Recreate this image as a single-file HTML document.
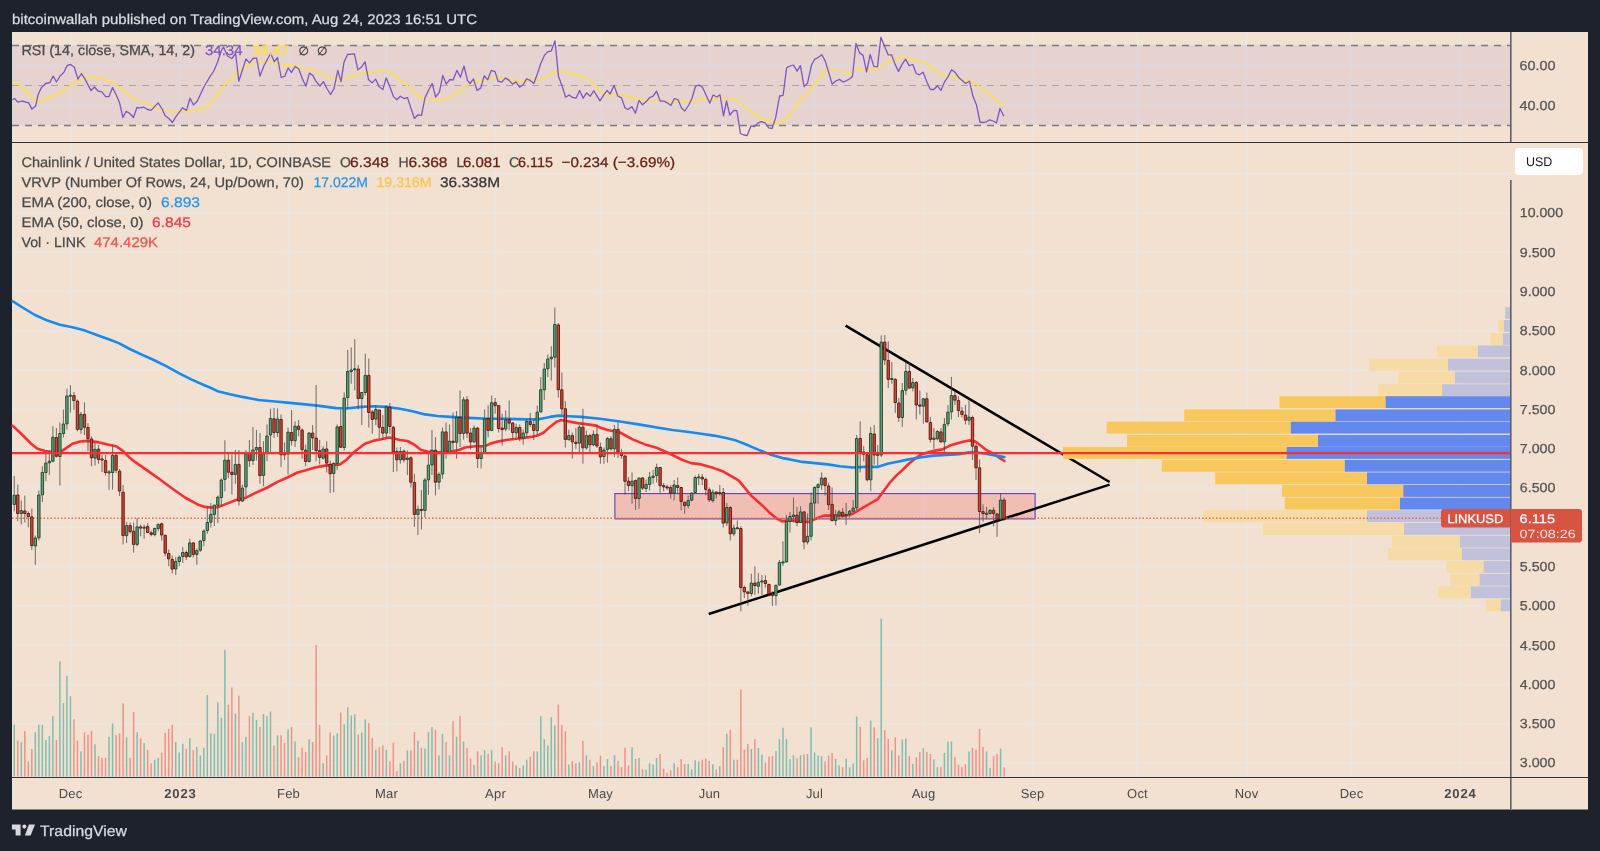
<!DOCTYPE html>
<html><head><meta charset="utf-8"><title>LINKUSD chart</title><style>html,body{margin:0;padding:0;background:#1e222d}body{width:1600px;height:851px;overflow:hidden;position:relative}</style></head><body>
<svg width="1600" height="851" viewBox="0 0 1600 851" style="position:absolute;left:0;top:0;font-family:'Liberation Sans',sans-serif;will-change:transform;-webkit-font-smoothing:antialiased" text-rendering="geometricPrecision">
<rect width="1600" height="851" fill="#1e222d"/>
<rect x="12" y="32" width="1576" height="777.5" fill="#f2e0d0"/>
<path d="M70.5 32V142M70.5 143V777M180.5 32V142M180.5 143V777M288.5 32V142M288.5 143V777M386.5 32V142M386.5 143V777M495.5 32V142M495.5 143V777M600.5 32V142M600.5 143V777M709.5 32V142M709.5 143V777M814.5 32V142M814.5 143V777M923.5 32V142M923.5 143V777M1032.5 32V142M1032.5 143V777M1137.5 32V142M1137.5 143V777M1246.5 32V142M1246.5 143V777M1351.5 32V142M1351.5 143V777M1460.5 32V142M1460.5 143V777M12 65.5H1510M12 105.5H1510M12 173.7H1510M12 213.0H1510M12 252.3H1510M12 291.6H1510M12 330.9H1510M12 370.1H1510M12 409.4H1510M12 448.7H1510M12 488.0H1510M12 527.3H1510M12 566.6H1510M12 605.9H1510M12 645.1H1510M12 684.4H1510M12 723.7H1510M12 763.0H1510" stroke="#e9e6e4" stroke-width="1.5" fill="none"/>
<rect x="12" y="45" width="1498" height="80" fill="rgba(126,87,194,0.1)"/>
<path d="M12 45.5H1510M12 125.5H1510" stroke="#787b86" stroke-width="1.3" stroke-dasharray="7 6" fill="none"/>
<path d="M12 85.5H1510" stroke="#787b86" stroke-opacity="0.55" stroke-width="1" stroke-dasharray="7 6" fill="none"/>
<polyline points="12.5,81.6 21.2,86.0 28.8,94.1 35.0,99.8 38.1,101.2 47.5,98.5 60.0,92.9 72.5,84.1 80.0,79.8 86.2,76.6 95.0,77.2 105.0,80.0 113.8,82.9 122.5,89.8 132.5,97.9 142.5,102.2 153.8,106.6 166.2,110.8 176.2,111.8 187.5,111.0 197.5,109.8 205.0,107.2 210.0,104.1 215.0,98.5 223.8,86.0 235.0,74.1 246.2,66.6 256.2,62.0 270.0,61.6 277.5,62.9 285.0,65.8 291.2,64.8 298.8,66.6 306.2,69.1 313.8,69.8 322.5,74.8 332.5,78.8 341.2,80.0 347.5,78.5 355.0,75.0 366.2,72.5 372.5,72.2 380.0,71.0 390.0,72.0 397.5,77.9 405.0,84.1 410.0,87.9 416.2,94.5 423.8,98.5 431.9,98.9 439.4,100.5 446.2,97.9 453.8,95.0 460.0,91.6 466.2,86.0 472.5,81.6 480.0,81.2 487.5,79.5 496.2,78.2 505.0,78.5 513.8,80.4 522.5,80.8 530.0,79.8 538.8,79.8 545.0,77.9 551.2,74.1 555.6,71.4 561.2,71.4 570.0,73.0 578.8,75.8 587.5,78.5 593.8,82.9 600.0,91.0 605.0,94.5 610.0,95.4 615.0,94.2 622.5,94.8 635.0,98.5 647.5,100.4 657.5,100.4 666.2,101.9 672.5,102.2 678.8,101.2 690.0,101.9 697.5,99.8 703.8,98.5 711.2,99.1 720.0,97.6 728.8,99.4 736.9,99.5 742.5,104.5 748.8,110.4 755.0,114.5 762.5,118.5 768.8,121.6 775.6,123.5 783.1,121.2 787.5,117.2 793.8,109.5 800.0,101.0 805.0,95.8 810.0,91.0 816.2,82.2 825.0,71.2 831.9,68.9 841.2,71.4 850.0,73.2 856.2,69.8 862.5,68.8 873.8,69.8 878.1,68.8 885.0,63.5 892.5,59.5 901.9,57.5 910.0,59.1 918.8,61.0 926.2,62.9 933.8,69.1 942.5,75.4 951.2,76.6 960.0,79.1 969.4,80.8 977.5,85.1 985.0,91.0 992.5,96.6 1003.8,106.2" fill="none" stroke="#fde23a" stroke-width="1.45" stroke-linejoin="round"/>
<polyline points="12.5,99.8 14.4,98.5 18.1,102.2 21.9,101.0 28.8,102.9 31.9,109.1 35.6,106.0 38.1,94.8 41.2,87.9 45.6,83.5 50.0,82.5 53.1,76.0 56.5,82.0 60.0,76.0 63.8,72.5 67.2,65.4 70.6,64.5 74.4,67.2 77.9,79.1 81.5,73.5 85.0,79.1 91.0,90.6 94.4,87.0 98.1,91.0 101.9,91.9 105.6,96.6 109.0,96.6 112.5,87.5 116.2,94.8 119.4,102.2 122.9,117.5 126.2,111.4 129.8,113.5 133.5,117.5 136.9,107.5 140.0,107.9 143.8,107.2 147.5,109.5 151.0,110.4 158.1,102.9 161.9,108.5 165.0,115.4 168.8,118.5 172.5,122.5 175.6,117.2 182.5,107.9 186.5,110.4 190.0,98.2 193.5,105.0 197.2,101.2 204.4,86.0 210.0,76.6 213.8,71.0 217.5,62.2 221.2,51.0 223.5,47.0 227.5,56.0 231.9,58.5 235.6,53.5 238.8,81.2 242.5,69.8 246.0,58.9 249.4,62.9 253.1,58.5 256.5,57.9 260.0,76.2 263.8,66.0 270.6,53.5 274.4,61.6 277.5,57.5 281.2,77.5 284.8,76.2 288.1,67.9 291.5,72.5 295.2,66.4 298.8,69.1 302.5,79.1 306.0,86.2 309.4,73.1 312.8,75.4 316.2,81.6 320.0,86.0 323.5,81.6 326.9,88.5 330.6,94.5 334.0,88.5 337.8,70.4 341.0,81.6 344.0,62.2 347.5,54.5 354.4,53.8 357.9,69.8 361.5,67.2 365.0,61.9 368.5,79.5 372.1,82.9 375.6,79.1 379.0,86.6 382.8,89.5 386.2,77.9 390.0,87.2 393.5,96.6 396.9,99.8 400.4,96.2 404.0,98.5 407.5,97.6 410.0,105.4 414.4,118.5 418.1,114.8 421.5,115.4 425.0,97.9 428.8,89.8 432.2,83.5 435.6,97.0 439.4,92.2 442.8,75.4 446.2,84.1 449.8,79.5 453.1,80.0 456.9,70.4 460.4,77.2 464.0,66.0 467.5,80.4 470.0,83.5 473.5,78.9 477.1,90.5 480.9,87.9 484.1,75.8 487.8,79.8 491.2,70.4 495.0,71.6 498.1,81.2 501.6,82.2 505.6,77.9 509.1,80.4 512.5,84.1 516.0,81.9 519.6,87.2 523.1,84.8 526.6,78.9 530.2,80.4 533.8,83.5 537.5,73.5 541.0,62.9 544.4,55.4 547.9,51.6 551.2,51.2 555.0,40.8 558.5,76.6 561.9,85.4 565.6,97.2 569.0,95.0 572.5,97.5 576.0,98.2 579.6,90.4 583.1,98.2 586.6,92.9 590.2,96.2 593.8,90.8 600.0,100.8 603.8,94.8 607.1,90.4 610.0,94.1 614.1,85.4 617.8,96.0 621.5,97.9 625.0,107.9 628.1,109.5 631.9,106.6 635.4,113.2 639.0,100.4 642.5,104.8 646.2,101.6 649.8,97.5 653.1,96.2 656.6,91.2 660.2,101.0 663.8,101.2 667.5,102.9 670.9,105.4 674.4,98.5 678.1,99.8 681.5,108.1 684.8,111.0 688.8,105.0 691.9,98.5 695.6,86.0 699.0,85.1 702.5,87.2 706.2,95.4 709.8,103.1 713.1,95.0 716.9,97.0 720.0,94.8 723.5,115.8 726.5,101.0 729.8,115.0 733.8,110.4 736.9,110.6 740.4,133.5 743.8,135.0 747.2,135.6 751.0,125.8 754.4,126.6 758.1,122.9 761.6,121.6 765.0,122.9 768.8,127.9 772.1,128.5 775.6,117.9 779.6,96.0 783.1,95.4 786.6,67.9 790.0,66.0 793.5,65.0 797.1,71.2 800.4,65.6 804.1,86.6 807.5,83.2 810.0,72.2 811.5,65.0 814.8,59.1 818.1,57.5 821.9,54.8 825.2,61.0 828.8,72.9 832.2,84.1 835.9,81.0 839.4,79.4 843.1,82.0 846.2,80.8 849.8,78.8 852.5,76.2 856.0,43.5 859.6,52.9 863.1,55.4 866.6,72.0 870.2,54.5 873.8,66.4 877.5,66.6 880.9,37.2 884.4,46.0 888.1,54.8 891.6,54.8 895.0,64.1 898.5,71.4 902.2,64.1 905.6,59.1 909.1,65.6 912.8,64.5 916.2,73.5 919.4,74.8 923.1,72.2 926.9,82.0 930.4,89.5 933.8,89.5 937.5,85.8 940.9,90.4 944.4,82.2 948.1,76.6 951.6,69.8 955.0,72.2 958.8,77.5 962.2,80.4 965.6,83.5 969.4,81.2 972.9,96.0 976.5,105.0 980.0,122.0 982.2,122.5 985.6,122.2 989.6,119.8 993.1,121.0 996.5,122.9 1000.0,108.5 1003.8,116.2" fill="none" stroke="#7e57c2" stroke-width="1.3" stroke-linejoin="round"/>
<path d="M14.27 724.7V776.5M21.29 742.2V776.5M35.33 732.2V776.5M38.84 724.7V776.5M42.35 724.7V776.5M45.86 740.0V776.5M49.37 735.9V776.5M52.88 716.1V776.5M59.90 661.4V776.5M63.41 703.1V776.5M66.92 675.8V776.5M70.43 696.2V776.5M80.96 751.2V776.5M95.00 744.2V776.5M109.04 736.9V776.5M112.55 723.4V776.5M126.59 737.2V776.5M137.12 732.2V776.5M144.14 743.0V776.5M154.67 759.8V776.5M158.18 757.8V776.5M175.73 741.9V776.5M179.24 752.5V776.5M182.75 743.8V776.5M189.77 738.0V776.5M196.79 747.0V776.5M200.30 755.5V776.5M203.81 747.8V776.5M207.32 695.0V776.5M210.83 733.3V776.5M214.34 733.8V776.5M217.85 702.3V776.5M221.36 717.7V776.5M224.87 649.7V776.5M235.40 713.4V776.5M242.42 742.3V776.5M245.93 736.7V776.5M252.95 713.0V776.5M256.46 720.0V776.5M263.48 714.1V776.5M266.99 716.1V776.5M270.50 711.4V776.5M277.52 735.2V776.5M288.05 729.4V776.5M295.07 741.4V776.5M309.11 739.1V776.5M323.15 763.0V776.5M333.68 735.6V776.5M337.19 733.3V776.5M344.21 724.2V776.5M347.72 707.2V776.5M351.23 715.6V776.5M354.74 714.2V776.5M361.76 732.5V776.5M365.27 719.5V776.5M375.80 749.7V776.5M386.33 749.7V776.5M400.37 763.3V776.5M407.39 750.5V776.5M417.92 740.8V776.5M424.94 748.4V776.5M428.45 732.0V776.5M431.96 727.0V776.5M438.98 755.2V776.5M442.49 734.1V776.5M449.51 755.2V776.5M456.53 736.7V776.5M463.55 741.4V776.5M474.08 765.0V776.5M481.10 755.2V776.5M484.61 750.2V776.5M491.63 750.2V776.5M505.67 755.6V776.5M516.20 765.6V776.5M523.22 765.6V776.5M526.73 759.8V776.5M537.26 751.2V776.5M540.77 716.1V776.5M544.28 739.2V776.5M547.79 745.5V776.5M551.30 717.3V776.5M554.81 725.5V776.5M568.85 764.5V776.5M579.38 762.2V776.5M586.40 755.2V776.5M593.42 766.1V776.5M603.95 766.1V776.5M607.46 759.1V776.5M614.48 755.2V776.5M632.03 747.3V776.5M639.05 758.0V776.5M646.07 769.7V776.5M649.58 763.3V776.5M653.09 764.5V776.5M656.60 758.0V776.5M674.15 763.3V776.5M688.19 764.1V776.5M691.70 769.2V776.5M695.21 760.3V776.5M698.72 761.4V776.5M712.76 764.2V776.5M719.78 766.1V776.5M726.80 733.8V776.5M733.82 759.8V776.5M751.37 748.9V776.5M758.39 748.1V776.5M761.90 754.4V776.5M775.94 750.9V776.5M779.45 739.1V776.5M782.96 727.8V776.5M786.47 739.1V776.5M789.98 759.1V776.5M793.49 755.2V776.5M800.51 755.2V776.5M807.53 753.9V776.5M811.04 727.3V776.5M814.55 752.5V776.5M818.06 755.2V776.5M821.57 756.2V776.5M835.61 759.1V776.5M839.12 765.6V776.5M846.14 758.6V776.5M849.65 767.2V776.5M853.16 763.3V776.5M856.67 716.6V776.5M870.71 720.8V776.5M877.73 738.0V776.5M881.24 618.4V776.5M891.77 750.2V776.5M902.30 739.5V776.5M905.81 738.4V776.5M912.83 763.8V776.5M923.36 748.1V776.5M933.89 759.4V776.5M937.40 766.9V776.5M944.42 753.1V776.5M947.93 741.4V776.5M951.44 741.4V776.5M968.99 751.6V776.5M986.54 751.6V776.5M990.05 768.1V776.5M1000.58 748.4V776.5" stroke="#82bdb0" stroke-width="1.5" fill="none"/>
<path d="M17.78 740.6V776.5M24.80 730.9V776.5M28.31 761.4V776.5M31.82 748.9V776.5M56.39 740.0V776.5M73.94 719.2V776.5M77.45 740.6V776.5M84.47 732.2V776.5M87.98 734.8V776.5M91.49 730.9V776.5M98.51 755.9V776.5M102.02 757.8V776.5M105.53 757.8V776.5M116.06 735.3V776.5M119.57 733.6V776.5M123.08 703.3V776.5M130.10 757.8V776.5M133.61 711.9V776.5M140.63 738.0V776.5M147.65 750.0V776.5M151.16 763.3V776.5M161.69 752.8V776.5M165.20 733.0V776.5M168.71 728.9V776.5M172.22 724.7V776.5M186.26 748.9V776.5M193.28 750.2V776.5M228.38 704.7V776.5M231.89 687.5V776.5M238.91 695.8V776.5M249.44 716.1V776.5M259.97 727.0V776.5M274.01 745.5V776.5M281.03 735.2V776.5M284.54 743.1V776.5M291.56 727.0V776.5M298.58 757.2V776.5M302.09 747.8V776.5M305.60 752.0V776.5M312.62 741.9V776.5M316.13 645.0V776.5M319.64 725.0V776.5M326.66 755.5V776.5M330.17 732.5V776.5M340.70 712.5V776.5M358.25 734.4V776.5M368.78 723.1V776.5M372.29 738.0V776.5M379.31 747.3V776.5M382.82 745.5V776.5M389.84 761.4V776.5M393.35 742.7V776.5M396.86 771.1V776.5M403.88 760.9V776.5M410.90 750.5V776.5M414.41 732.0V776.5M421.43 747.8V776.5M435.47 729.7V776.5M446.00 742.2V776.5M453.02 721.2V776.5M460.04 716.1V776.5M467.06 748.1V776.5M470.57 758.6V776.5M477.59 751.2V776.5M488.12 753.9V776.5M495.14 761.4V776.5M498.65 763.0V776.5M502.16 747.3V776.5M509.18 751.2V776.5M512.69 761.4V776.5M519.71 768.1V776.5M530.24 756.7V776.5M533.75 751.2V776.5M558.32 704.4V776.5M561.83 725.0V776.5M565.34 731.2V776.5M572.36 760.9V776.5M575.87 763.3V776.5M582.89 741.1V776.5M589.91 759.8V776.5M596.93 762.2V776.5M600.44 755.6V776.5M610.97 766.1V776.5M617.99 760.9V776.5M621.50 766.9V776.5M625.01 747.8V776.5M628.52 765.6V776.5M635.54 759.1V776.5M642.56 769.2V776.5M660.11 753.9V776.5M663.62 768.8V776.5M667.13 772.8V776.5M670.64 770.3V776.5M677.66 766.9V776.5M681.17 759.1V776.5M684.68 764.1V776.5M702.23 759.8V776.5M705.74 758.6V776.5M709.25 760.9V776.5M716.27 769.2V776.5M723.29 746.9V776.5M730.31 729.7V776.5M737.33 759.8V776.5M740.84 689.5V776.5M744.35 749.7V776.5M747.86 744.2V776.5M754.88 739.1V776.5M765.41 762.5V776.5M768.92 756.7V776.5M772.43 755.9V776.5M797.00 758.3V776.5M804.02 754.4V776.5M825.08 761.4V776.5M828.59 755.5V776.5M832.10 753.1V776.5M842.63 766.9V776.5M860.18 726.7V776.5M863.69 760.3V776.5M867.20 758.0V776.5M874.22 727.3V776.5M884.75 730.2V776.5M888.26 739.1V776.5M895.28 737.2V776.5M898.79 755.6V776.5M909.32 756.2V776.5M916.34 757.2V776.5M919.85 752.0V776.5M926.87 752.0V776.5M930.38 753.9V776.5M940.91 766.9V776.5M954.95 757.2V776.5M958.46 764.8V776.5M961.97 766.9V776.5M965.48 764.1V776.5M972.50 748.1V776.5M976.01 749.7V776.5M979.52 729.1V776.5M983.03 746.9V776.5M993.56 756.2V776.5M997.07 753.9V776.5M1004.09 767.3V776.5" stroke="#ef9388" stroke-width="1.5" fill="none"/>
<rect x="614.9" y="493.6" width="420.2" height="25.3" fill="rgba(242,54,69,0.2)" stroke="#5f3cc8" stroke-width="1.1"/>
<path d="M845.6 325.6L1109.6 482M708.75 614.06L1109.6 484.6" stroke="#000" stroke-width="2.5" fill="none" stroke-linecap="butt"/>
<rect x="1504.5" y="307.1" width="0.8" height="11.9" fill="#f6dba6"/>
<rect x="1505.3" y="307.1" width="4.7" height="11.9" fill="#c2c1dc"/>
<rect x="1498" y="320" width="6.0" height="11.9" fill="#f6dba6"/>
<rect x="1504" y="320" width="6.0" height="11.9" fill="#c2c1dc"/>
<rect x="1490.6" y="333" width="12.4" height="11.9" fill="#f6dba6"/>
<rect x="1503" y="333" width="7.0" height="11.9" fill="#c2c1dc"/>
<rect x="1437" y="345.5" width="41.0" height="11.9" fill="#f6dba6"/>
<rect x="1478" y="345.5" width="32.0" height="11.9" fill="#c2c1dc"/>
<rect x="1369" y="358.7" width="79.0" height="11.9" fill="#f6dba6"/>
<rect x="1448" y="358.7" width="62.0" height="11.9" fill="#c2c1dc"/>
<rect x="1398" y="371.6" width="57.0" height="11.9" fill="#f6dba6"/>
<rect x="1455" y="371.6" width="55.0" height="11.9" fill="#c2c1dc"/>
<rect x="1378" y="384.2" width="64.0" height="11.9" fill="#f6dba6"/>
<rect x="1442" y="384.2" width="68.0" height="11.9" fill="#c2c1dc"/>
<rect x="1279.4" y="396.2" width="106.2" height="11.9" fill="#f8c85c"/>
<rect x="1385.6" y="396.2" width="124.4" height="11.9" fill="#6489ee"/>
<rect x="1184.3" y="409.4" width="151.2" height="11.9" fill="#f8c85c"/>
<rect x="1335.5" y="409.4" width="174.5" height="11.9" fill="#6489ee"/>
<rect x="1106.6" y="421.7" width="184.2" height="11.9" fill="#f8c85c"/>
<rect x="1290.8" y="421.7" width="219.2" height="11.9" fill="#6489ee"/>
<rect x="1127" y="434.9" width="191.0" height="11.9" fill="#f8c85c"/>
<rect x="1318" y="434.9" width="192.0" height="11.9" fill="#6489ee"/>
<rect x="1063" y="447" width="223.6" height="11.9" fill="#f8c85c"/>
<rect x="1286.6" y="447" width="223.4" height="11.9" fill="#6489ee"/>
<rect x="1161.8" y="459.8" width="183.0" height="11.9" fill="#f8c85c"/>
<rect x="1344.8" y="459.8" width="165.2" height="11.9" fill="#6489ee"/>
<rect x="1215.2" y="472.4" width="151.8" height="11.9" fill="#f8c85c"/>
<rect x="1367" y="472.4" width="143.0" height="11.9" fill="#6489ee"/>
<rect x="1282" y="485" width="121.3" height="11.9" fill="#f8c85c"/>
<rect x="1403.3" y="485" width="106.7" height="11.9" fill="#6489ee"/>
<rect x="1284.8" y="497.6" width="115.2" height="11.9" fill="#f8c85c"/>
<rect x="1400" y="497.6" width="110.0" height="11.9" fill="#6489ee"/>
<rect x="1203.2" y="510.2" width="163.8" height="11.9" fill="#f6dba6"/>
<rect x="1367" y="510.2" width="143.0" height="11.9" fill="#c2c1dc"/>
<rect x="1263" y="523" width="141.0" height="11.9" fill="#f6dba6"/>
<rect x="1404" y="523" width="106.0" height="11.9" fill="#c2c1dc"/>
<rect x="1392" y="535.7" width="68.0" height="11.9" fill="#f6dba6"/>
<rect x="1460" y="535.7" width="50.0" height="11.9" fill="#c2c1dc"/>
<rect x="1388" y="548.3" width="74.0" height="11.9" fill="#f6dba6"/>
<rect x="1462" y="548.3" width="48.0" height="11.9" fill="#c2c1dc"/>
<rect x="1446.5" y="561" width="37.2" height="11.9" fill="#f6dba6"/>
<rect x="1483.7" y="561" width="26.3" height="11.9" fill="#c2c1dc"/>
<rect x="1450.4" y="573.8" width="29.1" height="11.9" fill="#f6dba6"/>
<rect x="1479.5" y="573.8" width="30.5" height="11.9" fill="#c2c1dc"/>
<rect x="1438.4" y="586.4" width="32.4" height="11.9" fill="#f6dba6"/>
<rect x="1470.8" y="586.4" width="39.2" height="11.9" fill="#c2c1dc"/>
<rect x="1485.8" y="599.3" width="15.0" height="11.9" fill="#f6dba6"/>
<rect x="1500.8" y="599.3" width="9.2" height="11.9" fill="#c2c1dc"/>
<polyline points="12.5,425.6 22.5,435.0 31.2,443.8 37.5,448.8 45.0,451.0 52.0,452.0 60.0,452.2 66.2,448.1 72.5,443.8 80.0,441.5 87.5,440.9 97.5,442.1 107.5,444.4 116.2,446.2 122.5,450.6 128.8,456.9 135.0,461.9 147.5,470.6 160.0,479.5 172.5,488.8 185.0,497.5 197.5,504.4 205.0,506.9 211.2,507.5 217.5,507.2 223.8,504.9 236.2,500.0 245.0,498.1 255.0,493.1 267.5,487.5 277.5,481.9 287.5,477.5 297.5,472.5 305.0,470.6 315.0,467.5 325.0,465.6 340.0,464.4 346.2,460.0 355.0,451.2 365.0,443.8 373.8,440.6 382.5,439.0 388.8,437.5 395.0,438.8 400.0,440.0 407.5,441.0 413.8,444.4 421.2,450.0 427.5,451.5 440.0,452.2 452.5,451.2 458.8,450.0 465.0,447.5 475.0,446.2 485.0,446.2 490.0,443.8 496.2,441.9 506.2,440.0 518.8,438.5 531.2,436.9 537.5,435.6 543.8,432.5 550.0,426.9 556.2,421.9 561.2,420.0 567.5,421.2 577.5,423.1 587.5,424.4 596.2,425.6 600.0,427.5 607.5,430.0 620.0,432.5 632.5,439.4 645.0,444.4 657.5,448.1 670.0,453.8 682.5,460.0 691.2,463.1 701.2,464.4 713.8,468.1 722.5,471.2 732.5,476.9 738.8,480.6 745.0,488.1 751.2,495.6 757.5,501.2 763.8,506.9 770.0,513.1 776.2,518.1 782.5,521.5 788.8,520.2 795.0,521.0 808.8,521.9 815.0,519.0 823.8,515.6 832.5,515.6 843.8,516.0 852.5,514.0 860.0,509.4 867.5,505.0 877.5,499.4 882.5,492.5 890.0,482.5 896.2,475.6 902.5,470.0 908.8,463.8 915.0,458.8 921.2,454.4 927.5,452.5 935.0,450.6 942.5,449.4 950.0,445.6 957.5,443.2 965.0,441.2 970.0,440.4 975.0,441.4 980.0,445.0 986.2,450.0 992.5,453.1 998.8,457.5 1004.4,461.0" fill="none" stroke="#fa2e30" stroke-width="2.6" stroke-linejoin="round" stroke-linecap="round"/>
<polyline points="12.5,301.2 22.5,307.5 35.0,315.0 47.5,320.6 60.0,324.8 72.5,327.2 85.0,330.6 97.5,335.2 110.0,339.8 118.8,343.1 128.8,348.5 141.2,354.4 153.8,360.0 166.2,366.2 178.8,373.1 191.2,379.4 203.8,385.0 210.0,387.5 217.5,391.2 230.0,394.2 242.5,396.9 258.8,400.0 275.0,401.5 292.5,403.1 317.5,405.6 336.2,408.1 346.2,408.5 361.2,406.9 373.8,406.2 386.2,406.9 400.0,408.8 412.5,411.2 425.0,414.4 437.5,416.0 450.0,416.9 468.8,417.9 487.5,418.8 506.2,418.8 525.0,419.4 537.5,419.4 550.0,416.9 558.8,415.6 568.8,416.2 581.2,416.9 600.0,418.8 620.0,421.5 640.0,424.6 660.0,428.0 672.5,430.0 685.0,431.5 701.2,433.8 713.8,435.6 726.2,438.1 736.2,440.6 745.0,444.0 757.5,449.4 770.0,454.4 782.5,458.1 790.0,459.4 802.5,461.9 815.0,463.1 827.5,464.4 840.0,466.2 852.5,467.5 865.0,466.9 877.5,466.9 887.5,463.8 896.2,461.9 908.8,459.4 921.2,457.2 933.8,455.6 946.2,455.0 958.8,454.3 968.8,452.4 975.0,452.5 981.2,453.0 992.5,455.0 1004.4,457.1" fill="none" stroke="#128bf5" stroke-width="2.6" stroke-linejoin="round" stroke-linecap="round"/>
<path d="M12 518.3H1510" stroke="#e66a58" stroke-width="1.6" stroke-dasharray="1.5 2" fill="none"/>
<path d="M14.27 476.0V511.2M17.78 484.4V521.2M21.29 500.6V524.4M24.80 495.6V522.5M28.31 511.2V527.2M31.82 508.5V550.0M35.33 535.6V564.8M38.84 490.6V540.6M42.35 466.2V501.9M45.86 453.8V481.2M49.37 450.6V475.0M52.88 426.2V462.2M56.39 428.1V457.5M59.90 422.5V485.6M63.41 409.4V437.5M66.92 388.8V429.4M70.43 385.2V412.5M73.94 391.9V410.0M77.45 399.4V431.2M80.96 411.9V433.8M84.47 402.2V435.0M87.98 423.1V451.2M91.49 436.2V466.2M95.00 443.1V465.6M98.51 445.0V463.8M102.02 455.0V471.9M105.53 455.0V475.6M109.04 470.0V489.8M112.55 445.6V489.4M116.06 451.9V473.1M119.57 469.0V496.0M123.08 485.0V544.4M126.59 521.9V543.1M130.10 522.5V533.8M133.61 522.5V552.8M137.12 518.1V546.2M140.63 524.4V536.2M144.14 524.4V538.8M147.65 523.1V533.1M151.16 530.6V536.2M154.67 527.5V536.2M158.18 523.5V531.2M161.69 522.5V540.6M165.20 534.4V556.2M168.71 549.4V566.2M172.22 555.6V573.5M175.73 556.9V575.0M179.24 555.6V566.2M182.75 546.9V563.1M186.26 550.6V560.0M189.77 538.8V557.5M193.28 541.9V557.5M196.79 548.5V564.8M200.30 540.0V551.9M203.81 529.4V546.2M207.32 507.5V533.8M210.83 503.1V527.5M214.34 504.4V526.2M217.85 495.6V523.1M221.36 478.5V506.2M224.87 440.2V491.2M228.38 453.8V478.1M231.89 454.4V494.4M235.40 449.8V483.8M238.91 450.0V505.6M242.42 484.8V501.9M245.93 450.0V496.2M249.44 440.0V466.9M252.95 426.9V465.0M256.46 430.0V460.6M259.97 433.1V483.8M263.48 441.2V486.2M266.99 424.4V461.2M270.50 408.8V451.9M274.01 408.1V438.1M277.52 408.5V436.9M281.03 414.4V466.9M284.54 442.5V460.0M288.05 427.5V474.4M291.56 410.0V445.6M295.07 421.2V446.9M298.58 420.0V436.2M302.09 428.5V458.8M305.60 444.4V466.2M309.11 431.9V462.5M312.62 425.0V450.0M316.13 385.0V461.2M319.64 440.0V464.4M323.15 446.2V459.4M326.66 441.2V472.5M330.17 460.6V493.1M333.68 462.2V492.2M337.19 424.4V470.0M340.70 410.0V448.1M344.21 392.5V450.6M347.72 350.0V408.8M351.23 347.5V383.8M354.74 339.0V390.6M358.25 365.0V409.4M361.76 391.9V425.0M365.27 353.8V395.6M368.78 358.5V427.5M372.29 410.0V433.8M375.80 405.6V425.0M379.31 409.4V438.1M382.82 415.0V440.0M386.33 405.6V436.9M389.84 403.1V433.8M393.35 426.2V471.9M396.86 447.5V471.2M400.37 446.9V463.8M403.88 449.4V462.5M407.39 450.6V475.0M410.90 456.2V487.5M414.41 473.8V526.9M417.92 505.6V535.0M421.43 490.0V529.4M424.94 478.1V517.5M428.45 452.5V495.0M431.96 430.0V475.0M435.47 436.9V495.6M438.98 472.5V489.4M442.49 427.5V478.8M446.00 422.5V458.8M449.51 424.4V453.5M453.02 412.5V451.2M456.53 411.0V458.8M460.04 390.6V446.9M463.55 396.9V439.4M467.06 396.2V438.1M470.57 428.1V449.4M474.08 425.6V443.1M477.59 426.9V468.1M481.10 445.6V468.5M484.61 409.4V452.9M488.12 405.6V437.5M491.63 395.6V431.2M495.14 398.1V413.8M498.65 405.0V432.5M502.16 413.8V445.6M505.67 410.6V431.2M509.18 400.6V430.6M512.69 421.9V438.8M516.20 423.8V437.5M519.71 424.4V441.2M523.22 429.4V444.4M526.73 419.4V437.5M530.24 413.1V426.9M533.75 419.4V440.0M537.26 405.6V435.0M540.77 376.9V412.5M544.28 363.1V400.0M547.79 354.4V376.9M551.30 346.2V380.6M554.81 307.5V367.5M558.32 323.1V397.5M561.83 372.5V414.4M565.34 401.2V447.5M568.85 429.8V440.2M572.36 432.5V458.5M575.87 428.1V448.8M579.38 425.0V451.9M582.89 408.8V463.8M586.40 430.6V449.4M589.91 433.8V451.9M593.42 430.6V446.2M596.93 424.4V448.1M600.44 442.5V463.8M603.95 447.5V463.8M607.46 436.9V462.5M610.97 436.2V450.6M614.48 425.0V456.9M617.99 422.5V458.1M621.50 448.8V458.8M625.01 455.0V494.4M628.52 476.9V491.2M632.03 472.5V503.8M635.54 479.4V510.0M639.05 477.5V508.8M642.56 477.2V490.0M646.07 479.4V491.9M649.58 471.9V490.6M653.09 470.0V483.8M656.60 463.8V482.5M660.11 466.9V493.1M663.62 483.1V491.2M667.13 484.4V490.0M670.64 485.0V498.8M674.15 480.0V500.6M677.66 477.5V493.1M681.17 486.9V510.6M684.68 501.2V513.8M688.19 495.6V508.5M691.70 492.2V501.2M695.21 475.6V493.1M698.72 473.8V485.0M702.23 474.0V485.0M705.74 477.5V495.6M709.25 487.2V501.9M712.76 489.4V502.5M716.27 491.2V498.5M719.78 485.0V495.6M723.29 488.1V527.5M726.80 503.1V526.0M730.31 506.2V540.6M733.82 524.4V536.2M737.33 520.6V528.8M740.84 526.2V611.2M744.35 585.6V598.1M747.86 591.2V605.6M751.37 573.8V596.2M754.88 566.2V595.0M758.39 573.1V593.8M761.90 575.0V595.0M765.41 575.2V587.5M768.92 583.8V596.2M772.43 591.2V606.0M775.94 584.4V605.6M779.45 560.0V585.6M782.96 541.2V566.0M786.47 515.0V562.5M789.98 511.9V532.5M793.49 497.5V522.5M797.00 506.9V526.2M800.51 506.2V523.1M804.02 511.2V549.3M807.53 513.6V544.4M811.04 492.5V540.4M814.55 486.2V517.5M818.06 483.1V503.8M821.57 472.5V490.0M825.08 477.5V495.6M828.59 482.5V510.0M832.10 487.5V521.2M835.61 510.0V525.6M839.12 510.0V519.4M842.63 508.1V517.5M846.14 503.1V525.0M849.65 510.0V517.5M853.16 500.0V512.5M856.67 435.0V510.0M860.18 421.2V472.5M863.69 446.2V461.2M867.20 453.8V481.2M870.71 426.9V491.2M874.22 425.0V464.4M877.73 445.0V465.6M881.24 335.6V456.9M884.75 335.0V365.0M888.26 341.2V388.1M891.77 361.9V383.8M895.28 378.1V413.1M898.79 398.1V421.9M902.30 383.1V426.9M905.81 361.2V395.0M909.32 362.8V388.8M912.83 378.1V391.2M916.34 381.0V419.4M919.85 390.6V414.4M923.36 398.1V423.8M926.87 392.5V422.5M930.38 416.9V442.5M933.89 428.1V448.8M937.40 430.0V440.6M940.91 428.1V442.5M944.42 418.1V451.9M947.93 405.0V426.2M951.44 376.9V419.4M954.95 391.2V405.0M958.46 396.2V416.9M961.97 406.9V417.5M965.48 405.0V424.4M968.99 400.6V425.0M972.50 415.6V460.0M976.01 443.8V480.0M979.52 459.4V533.0M983.03 504.6V521.7M986.54 507.0V519.2M990.05 509.2V514.4M993.56 507.0V526.6M997.07 512.7V537.1M1000.58 493.0V520.0M1004.09 497.8V520.9" stroke="#46464c" stroke-opacity="0.7" stroke-width="1.1" fill="none"/>
<path d="M13.07 495.2h2.4V504.4h-2.4zM20.09 510.6h2.4V513.5h-2.4zM34.13 538.1h2.4V546.0h-2.4zM37.64 495.0h2.4V537.8h-2.4zM41.15 472.5h2.4V494.8h-2.4zM44.66 463.1h2.4V472.5h-2.4zM48.17 461.2h2.4V462.8h-2.4zM51.68 437.2h2.4V461.2h-2.4zM58.70 433.5h2.4V456.5h-2.4zM62.21 424.0h2.4V433.5h-2.4zM65.72 396.0h2.4V423.8h-2.4zM69.23 395.2h2.4V396.2h-2.4zM79.76 414.4h2.4V429.4h-2.4zM93.80 449.4h2.4V458.1h-2.4zM107.84 471.9h2.4V472.9h-2.4zM111.35 455.4h2.4V472.5h-2.4zM125.39 525.6h2.4V535.6h-2.4zM135.92 526.9h2.4V544.4h-2.4zM142.94 527.2h2.4V528.2h-2.4zM153.47 528.5h2.4V534.6h-2.4zM156.98 524.4h2.4V528.5h-2.4zM174.53 561.5h2.4V569.0h-2.4zM178.04 557.2h2.4V561.5h-2.4zM181.55 552.5h2.4V556.5h-2.4zM188.57 542.9h2.4V556.5h-2.4zM195.59 550.6h2.4V554.4h-2.4zM199.10 541.0h2.4V550.2h-2.4zM202.61 531.0h2.4V540.6h-2.4zM206.12 522.5h2.4V530.6h-2.4zM209.63 514.4h2.4V522.2h-2.4zM213.14 505.2h2.4V514.4h-2.4zM216.65 497.2h2.4V505.2h-2.4zM220.16 480.0h2.4V497.5h-2.4zM223.67 460.2h2.4V479.4h-2.4zM234.20 464.4h2.4V474.4h-2.4zM241.22 488.1h2.4V501.0h-2.4zM244.73 453.8h2.4V486.9h-2.4zM251.75 450.0h2.4V460.6h-2.4zM255.26 447.5h2.4V449.8h-2.4zM262.28 453.8h2.4V475.4h-2.4zM265.79 436.0h2.4V453.1h-2.4zM269.30 418.5h2.4V435.0h-2.4zM276.32 419.0h2.4V432.5h-2.4zM286.85 432.2h2.4V454.0h-2.4zM293.87 426.2h2.4V440.6h-2.4zM307.91 433.1h2.4V461.5h-2.4zM321.95 449.0h2.4V458.1h-2.4zM332.48 463.5h2.4V473.5h-2.4zM335.99 426.9h2.4V463.5h-2.4zM343.01 398.1h2.4V447.5h-2.4zM346.52 371.5h2.4V397.5h-2.4zM350.03 370.0h2.4V371.5h-2.4zM353.54 368.8h2.4V369.8h-2.4zM360.56 392.5h2.4V398.5h-2.4zM364.07 375.4h2.4V392.5h-2.4zM374.60 409.4h2.4V419.0h-2.4zM385.13 406.9h2.4V433.1h-2.4zM399.17 451.5h2.4V459.8h-2.4zM406.19 458.1h2.4V459.4h-2.4zM416.72 509.4h2.4V514.4h-2.4zM423.74 480.0h2.4V510.4h-2.4zM427.25 465.2h2.4V479.8h-2.4zM430.76 450.2h2.4V465.0h-2.4zM437.78 474.4h2.4V482.2h-2.4zM441.29 431.9h2.4V474.0h-2.4zM448.31 441.2h2.4V453.1h-2.4zM455.33 417.5h2.4V442.2h-2.4zM462.35 399.8h2.4V433.5h-2.4zM472.88 428.1h2.4V441.9h-2.4zM479.90 452.5h2.4V458.5h-2.4zM483.41 418.8h2.4V452.5h-2.4zM490.43 402.8h2.4V430.4h-2.4zM504.47 419.8h2.4V429.0h-2.4zM515.00 427.5h2.4V432.8h-2.4zM522.02 433.1h2.4V438.1h-2.4zM525.53 421.5h2.4V432.8h-2.4zM536.06 412.2h2.4V430.6h-2.4zM539.57 389.8h2.4V411.9h-2.4zM543.08 369.1h2.4V389.8h-2.4zM546.59 359.0h2.4V368.8h-2.4zM550.10 357.2h2.4V358.8h-2.4zM553.61 324.4h2.4V357.2h-2.4zM567.65 435.6h2.4V439.8h-2.4zM578.18 427.2h2.4V443.1h-2.4zM585.20 435.6h2.4V447.9h-2.4zM592.22 434.4h2.4V444.8h-2.4zM602.75 450.0h2.4V456.5h-2.4zM606.26 438.5h2.4V449.4h-2.4zM613.28 429.4h2.4V448.8h-2.4zM630.83 481.2h2.4V485.6h-2.4zM637.85 478.1h2.4V498.5h-2.4zM644.87 484.4h2.4V488.5h-2.4zM648.38 477.2h2.4V484.4h-2.4zM651.89 476.2h2.4V477.5h-2.4zM655.40 467.5h2.4V475.6h-2.4zM672.95 485.0h2.4V493.1h-2.4zM686.99 500.6h2.4V505.6h-2.4zM690.50 493.1h2.4V500.2h-2.4zM694.01 477.5h2.4V492.5h-2.4zM697.52 476.9h2.4V477.9h-2.4zM711.56 492.2h2.4V500.6h-2.4zM718.58 492.5h2.4V493.5h-2.4zM725.60 507.5h2.4V522.8h-2.4zM732.62 528.1h2.4V533.8h-2.4zM750.17 583.1h2.4V593.5h-2.4zM757.19 582.2h2.4V586.2h-2.4zM760.70 581.0h2.4V582.0h-2.4zM774.74 585.4h2.4V595.6h-2.4zM778.25 562.5h2.4V585.0h-2.4zM781.76 561.9h2.4V562.9h-2.4zM785.27 521.5h2.4V561.9h-2.4zM788.78 516.5h2.4V521.5h-2.4zM792.29 515.0h2.4V516.5h-2.4zM799.31 511.9h2.4V522.5h-2.4zM806.33 536.3h2.4V542.0h-2.4zM809.84 503.2h2.4V536.3h-2.4zM813.35 487.5h2.4V503.1h-2.4zM816.86 484.8h2.4V487.5h-2.4zM820.37 478.1h2.4V484.8h-2.4zM834.41 515.0h2.4V520.6h-2.4zM837.92 511.9h2.4V515.0h-2.4zM844.94 514.4h2.4V515.6h-2.4zM848.45 511.2h2.4V514.0h-2.4zM851.96 508.1h2.4V511.2h-2.4zM855.47 438.5h2.4V507.8h-2.4zM869.51 433.5h2.4V479.8h-2.4zM876.53 454.4h2.4V455.4h-2.4zM880.04 342.2h2.4V455.0h-2.4zM890.57 378.5h2.4V379.5h-2.4zM901.10 390.6h2.4V417.5h-2.4zM904.61 371.5h2.4V390.2h-2.4zM911.63 382.5h2.4V387.8h-2.4zM922.16 398.8h2.4V406.2h-2.4zM932.69 438.1h2.4V439.4h-2.4zM936.20 431.5h2.4V438.8h-2.4zM943.22 424.4h2.4V441.9h-2.4zM946.73 412.2h2.4V423.8h-2.4zM950.24 395.6h2.4V411.9h-2.4zM967.79 417.2h2.4V420.2h-2.4zM985.34 513.2h2.4V514.4h-2.4zM988.85 510.3h2.4V513.6h-2.4zM999.38 500.1h2.4V519.2h-2.4z" fill="#60a07b" stroke="#17452a" stroke-width="0.9"/>
<path d="M16.58 495.0h2.4V513.5h-2.4zM23.60 511.0h2.4V513.5h-2.4zM27.11 513.5h2.4V516.5h-2.4zM30.62 516.9h2.4V545.6h-2.4zM55.19 437.5h2.4V456.2h-2.4zM72.74 395.6h2.4V400.6h-2.4zM76.25 401.2h2.4V429.4h-2.4zM83.27 414.4h2.4V427.2h-2.4zM86.78 427.5h2.4V438.5h-2.4zM90.29 439.0h2.4V457.8h-2.4zM97.31 449.1h2.4V459.4h-2.4zM100.82 459.0h2.4V460.0h-2.4zM104.33 460.6h2.4V472.5h-2.4zM114.86 455.4h2.4V470.2h-2.4zM118.37 471.2h2.4V491.0h-2.4zM121.88 492.2h2.4V535.6h-2.4zM128.90 525.6h2.4V531.5h-2.4zM132.41 531.2h2.4V544.4h-2.4zM139.43 526.9h2.4V528.1h-2.4zM146.45 526.5h2.4V532.5h-2.4zM149.96 532.8h2.4V534.4h-2.4zM160.49 523.8h2.4V535.0h-2.4zM164.00 535.4h2.4V553.1h-2.4zM167.51 553.5h2.4V558.8h-2.4zM171.02 559.4h2.4V569.0h-2.4zM185.06 552.5h2.4V556.9h-2.4zM192.08 542.9h2.4V554.4h-2.4zM227.18 460.2h2.4V472.2h-2.4zM230.69 472.2h2.4V474.6h-2.4zM237.71 464.4h2.4V501.0h-2.4zM248.24 453.5h2.4V460.6h-2.4zM258.77 447.5h2.4V475.6h-2.4zM272.81 418.8h2.4V432.5h-2.4zM279.83 419.4h2.4V454.8h-2.4zM283.34 453.5h2.4V454.8h-2.4zM290.36 432.5h2.4V440.6h-2.4zM297.38 426.2h2.4V429.4h-2.4zM300.89 430.0h2.4V449.6h-2.4zM304.40 450.2h2.4V461.5h-2.4zM311.42 433.1h2.4V437.8h-2.4zM314.93 438.1h2.4V450.6h-2.4zM318.44 450.6h2.4V457.5h-2.4zM325.46 449.0h2.4V463.1h-2.4zM328.97 464.4h2.4V473.8h-2.4zM339.50 426.5h2.4V447.2h-2.4zM357.05 369.1h2.4V398.5h-2.4zM367.58 375.4h2.4V412.5h-2.4zM371.09 411.9h2.4V419.4h-2.4zM378.11 410.0h2.4V427.2h-2.4zM381.62 427.5h2.4V433.1h-2.4zM388.64 407.2h2.4V426.5h-2.4zM392.15 427.2h2.4V451.9h-2.4zM395.66 451.5h2.4V459.8h-2.4zM402.68 451.2h2.4V459.8h-2.4zM409.70 457.8h2.4V482.2h-2.4zM413.21 482.5h2.4V514.4h-2.4zM420.23 509.4h2.4V510.4h-2.4zM434.27 450.2h2.4V482.2h-2.4zM444.80 431.9h2.4V453.1h-2.4zM451.82 441.2h2.4V442.5h-2.4zM458.84 417.5h2.4V433.5h-2.4zM465.86 399.8h2.4V433.1h-2.4zM469.37 433.1h2.4V441.9h-2.4zM476.39 428.1h2.4V458.5h-2.4zM486.92 418.5h2.4V430.4h-2.4zM493.94 402.5h2.4V405.6h-2.4zM497.45 405.6h2.4V428.5h-2.4zM500.96 428.1h2.4V429.6h-2.4zM507.98 419.4h2.4V423.1h-2.4zM511.49 423.1h2.4V432.5h-2.4zM518.51 427.5h2.4V437.8h-2.4zM529.04 421.5h2.4V424.4h-2.4zM532.55 424.6h2.4V430.4h-2.4zM557.12 325.0h2.4V389.8h-2.4zM560.63 389.8h2.4V408.8h-2.4zM564.14 408.8h2.4V439.4h-2.4zM571.16 435.6h2.4V441.9h-2.4zM574.67 442.2h2.4V443.5h-2.4zM581.69 427.2h2.4V447.8h-2.4zM588.71 435.6h2.4V444.8h-2.4zM595.73 434.4h2.4V446.0h-2.4zM599.24 447.2h2.4V456.9h-2.4zM609.77 438.8h2.4V448.8h-2.4zM616.79 429.4h2.4V452.2h-2.4zM620.30 452.5h2.4V455.6h-2.4zM623.81 456.0h2.4V481.2h-2.4zM627.32 481.2h2.4V485.6h-2.4zM634.34 480.6h2.4V498.5h-2.4zM641.36 477.9h2.4V488.1h-2.4zM658.91 467.5h2.4V485.6h-2.4zM662.42 485.6h2.4V486.9h-2.4zM665.93 486.9h2.4V487.9h-2.4zM669.44 487.5h2.4V493.1h-2.4zM676.46 485.6h2.4V487.5h-2.4zM679.97 487.5h2.4V501.5h-2.4zM683.48 502.5h2.4V505.6h-2.4zM701.03 477.2h2.4V479.0h-2.4zM704.54 479.4h2.4V489.4h-2.4zM708.05 489.8h2.4V499.8h-2.4zM715.07 492.1h2.4V493.8h-2.4zM722.09 492.5h2.4V523.1h-2.4zM729.11 507.5h2.4V533.8h-2.4zM736.13 527.8h2.4V528.8h-2.4zM739.64 528.5h2.4V587.5h-2.4zM743.15 587.5h2.4V591.9h-2.4zM746.66 591.9h2.4V593.5h-2.4zM753.68 583.1h2.4V585.6h-2.4zM764.21 580.6h2.4V583.5h-2.4zM767.72 584.4h2.4V593.8h-2.4zM771.23 594.0h2.4V595.6h-2.4zM795.80 515.2h2.4V522.5h-2.4zM802.82 511.9h2.4V542.0h-2.4zM823.88 478.1h2.4V485.6h-2.4zM827.39 486.0h2.4V504.8h-2.4zM830.90 504.4h2.4V520.6h-2.4zM841.43 512.2h2.4V516.0h-2.4zM858.98 438.5h2.4V451.9h-2.4zM862.49 451.9h2.4V454.4h-2.4zM866.00 454.8h2.4V479.8h-2.4zM873.02 434.0h2.4V455.0h-2.4zM883.55 342.2h2.4V360.0h-2.4zM887.06 360.4h2.4V379.4h-2.4zM894.08 379.4h2.4V402.5h-2.4zM897.59 403.1h2.4V417.5h-2.4zM908.12 371.5h2.4V388.1h-2.4zM915.14 382.5h2.4V405.0h-2.4zM918.65 405.0h2.4V406.2h-2.4zM925.67 398.8h2.4V421.9h-2.4zM929.18 422.5h2.4V439.4h-2.4zM939.71 431.9h2.4V441.9h-2.4zM953.75 395.6h2.4V400.2h-2.4zM957.26 400.6h2.4V410.6h-2.4zM960.77 411.2h2.4V414.4h-2.4zM964.28 415.0h2.4V420.2h-2.4zM971.30 417.5h2.4V446.2h-2.4zM974.81 446.2h2.4V467.8h-2.4zM978.32 467.8h2.4V511.5h-2.4zM981.83 511.6h2.4V513.6h-2.4zM992.36 510.3h2.4V513.6h-2.4zM995.87 514.0h2.4V519.2h-2.4zM1002.89 500.1h2.4V518.9h-2.4z" fill="#cf4835" stroke="#5a150e" stroke-width="0.9"/>
<path d="M12 453.2H1510" stroke="#fa2e30" stroke-width="2.3" fill="none"/>
<path d="M1510.8 32V142M1510.8 180V809" stroke="#58585e" stroke-width="1.5" fill="none"/>
<path d="M12 142.5H1588M12 777.5H1588" stroke="#30323c" stroke-width="1.1" fill="none"/>
<rect x="1515" y="148" width="68" height="27" rx="4" fill="#fff"/>
<text x="1526" y="166.1" font-size="12.6" fill="#131722" textLength="26.4" lengthAdjust="spacingAndGlyphs">USD</text>
<text x="1519.5" y="69.6" font-size="13" fill="#555" stroke="#555" stroke-width="0.25" textLength="36" lengthAdjust="spacingAndGlyphs">60.00</text>
<text x="1519.5" y="109.6" font-size="13" fill="#555" stroke="#555" stroke-width="0.25" textLength="36" lengthAdjust="spacingAndGlyphs">40.00</text>
<text x="1519.8" y="217.4" font-size="13" fill="#555" stroke="#555" stroke-width="0.25" textLength="43.2" lengthAdjust="spacingAndGlyphs">10.000</text>
<text x="1519.8" y="256.6857" font-size="13" fill="#555" stroke="#555" stroke-width="0.25" textLength="35.7" lengthAdjust="spacingAndGlyphs">9.500</text>
<text x="1519.8" y="295.97139999999996" font-size="13" fill="#555" stroke="#555" stroke-width="0.25" textLength="35.7" lengthAdjust="spacingAndGlyphs">9.000</text>
<text x="1519.8" y="335.2571" font-size="13" fill="#555" stroke="#555" stroke-width="0.25" textLength="35.7" lengthAdjust="spacingAndGlyphs">8.500</text>
<text x="1519.8" y="374.54279999999994" font-size="13" fill="#555" stroke="#555" stroke-width="0.25" textLength="35.7" lengthAdjust="spacingAndGlyphs">8.000</text>
<text x="1519.8" y="413.82849999999996" font-size="13" fill="#555" stroke="#555" stroke-width="0.25" textLength="35.7" lengthAdjust="spacingAndGlyphs">7.500</text>
<text x="1519.8" y="453.1142" font-size="13" fill="#555" stroke="#555" stroke-width="0.25" textLength="35.7" lengthAdjust="spacingAndGlyphs">7.000</text>
<text x="1519.8" y="492.39989999999995" font-size="13" fill="#555" stroke="#555" stroke-width="0.25" textLength="35.7" lengthAdjust="spacingAndGlyphs">6.500</text>
<text x="1519.8" y="570.9713" font-size="13" fill="#555" stroke="#555" stroke-width="0.25" textLength="35.7" lengthAdjust="spacingAndGlyphs">5.500</text>
<text x="1519.8" y="610.257" font-size="13" fill="#555" stroke="#555" stroke-width="0.25" textLength="35.7" lengthAdjust="spacingAndGlyphs">5.000</text>
<text x="1519.8" y="649.5427" font-size="13" fill="#555" stroke="#555" stroke-width="0.25" textLength="35.7" lengthAdjust="spacingAndGlyphs">4.500</text>
<text x="1519.8" y="688.8284" font-size="13" fill="#555" stroke="#555" stroke-width="0.25" textLength="35.7" lengthAdjust="spacingAndGlyphs">4.000</text>
<text x="1519.8" y="728.1140999999999" font-size="13" fill="#555" stroke="#555" stroke-width="0.25" textLength="35.7" lengthAdjust="spacingAndGlyphs">3.500</text>
<text x="1519.8" y="767.3997999999999" font-size="13" fill="#555" stroke="#555" stroke-width="0.25" textLength="35.7" lengthAdjust="spacingAndGlyphs">3.000</text>
<path d="M1444 509h66v18.5h-66a3 3 0 0 1-3-3v-12.5a3 3 0 0 1 3-3z" fill="#d75442"/>
<path d="M1510.5 509h68.5a3 3 0 0 1 3 3v27.5a3 3 0 0 1-3 3h-68.5z" fill="#d75442"/>
<text x="1447.4" y="522.8" font-size="12.4" fill="#fff" stroke="#fff" stroke-width="0.25" textLength="55.8" lengthAdjust="spacingAndGlyphs">LINKUSD</text>
<text x="1519.6" y="522.7" font-size="12.5" fill="#fff" stroke="#fff" stroke-width="0.25" textLength="35.4" lengthAdjust="spacingAndGlyphs">6.115</text>
<text x="1519.6" y="537.8" font-size="12" fill="rgba(255,255,255,0.85)" textLength="56.2" lengthAdjust="spacingAndGlyphs">07:08:26</text>
<text x="70.5" y="798.3" font-size="13" fill="#4a4a4a" text-anchor="middle" letter-spacing="0.2">Dec</text>
<text x="180.5" y="798.3" font-size="13" fill="#4a4a4a" text-anchor="middle" font-weight="bold" letter-spacing="0.9">2023</text>
<text x="288.5" y="798.3" font-size="13" fill="#4a4a4a" text-anchor="middle" letter-spacing="0.2">Feb</text>
<text x="386.5" y="798.3" font-size="13" fill="#4a4a4a" text-anchor="middle" letter-spacing="0.2">Mar</text>
<text x="495.5" y="798.3" font-size="13" fill="#4a4a4a" text-anchor="middle" letter-spacing="0.2">Apr</text>
<text x="600.5" y="798.3" font-size="13" fill="#4a4a4a" text-anchor="middle" letter-spacing="0.2">May</text>
<text x="709.5" y="798.3" font-size="13" fill="#4a4a4a" text-anchor="middle" letter-spacing="0.2">Jun</text>
<text x="814.5" y="798.3" font-size="13" fill="#4a4a4a" text-anchor="middle" letter-spacing="0.2">Jul</text>
<text x="923.5" y="798.3" font-size="13" fill="#4a4a4a" text-anchor="middle" letter-spacing="0.2">Aug</text>
<text x="1032.5" y="798.3" font-size="13" fill="#4a4a4a" text-anchor="middle" letter-spacing="0.2">Sep</text>
<text x="1137.5" y="798.3" font-size="13" fill="#4a4a4a" text-anchor="middle" letter-spacing="0.2">Oct</text>
<text x="1246.5" y="798.3" font-size="13" fill="#4a4a4a" text-anchor="middle" letter-spacing="0.2">Nov</text>
<text x="1351.5" y="798.3" font-size="13" fill="#4a4a4a" text-anchor="middle" letter-spacing="0.2">Dec</text>
<text x="1460.5" y="798.3" font-size="13" fill="#4a4a4a" text-anchor="middle" font-weight="bold" letter-spacing="0.9">2024</text>
<text x="12" y="23.5" font-size="14" fill="#d9dbe1" stroke="#d9dbe1" stroke-width="0.25" textLength="465" lengthAdjust="spacingAndGlyphs">bitcoinwallah published on TradingView.com, Aug 24, 2023 16:51 UTC</text>
<text x="21.5" y="54.7" font-size="14" fill="#4a4a4a" stroke="#4a4a4a" stroke-width="0.25" textLength="173.5" lengthAdjust="spacingAndGlyphs">RSI (14, close, SMA, 14, 2)</text>
<text x="205" y="54.7" font-size="14" fill="#7e57c2" stroke="#7e57c2" stroke-width="0.25" textLength="37.5" lengthAdjust="spacingAndGlyphs">34.34</text>
<text x="252.5" y="54.7" font-size="14" fill="#fde23a" stroke="#fde23a" stroke-width="0.25" textLength="36.5" lengthAdjust="spacingAndGlyphs">39.47</text>
<text x="298.5" y="54.7" font-size="12" fill="#333" stroke="#333" stroke-width="0.25">∅</text>
<text x="317" y="54.7" font-size="12" fill="#333" stroke="#333" stroke-width="0.25">∅</text>
<text x="21.5" y="166.8" font-size="14" fill="#4a4a4a" stroke="#4a4a4a" stroke-width="0.25" textLength="309.5" lengthAdjust="spacingAndGlyphs">Chainlink / United States Dollar, 1D, COINBASE</text>
<text x="340" y="166.8" font-size="14" fill="#4a4a4a" stroke="#4a4a4a" stroke-width="0.25">O</text>
<text x="350" y="166.8" font-size="14" fill="#652018" stroke="#652018" stroke-width="0.25" textLength="39" lengthAdjust="spacingAndGlyphs">6.348</text>
<text x="398.5" y="166.8" font-size="14" fill="#4a4a4a" stroke="#4a4a4a" stroke-width="0.25">H</text>
<text x="408.5" y="166.8" font-size="14" fill="#652018" stroke="#652018" stroke-width="0.25" textLength="39" lengthAdjust="spacingAndGlyphs">6.368</text>
<text x="456.5" y="166.8" font-size="14" fill="#4a4a4a" stroke="#4a4a4a" stroke-width="0.25">L</text>
<text x="463" y="166.8" font-size="14" fill="#652018" stroke="#652018" stroke-width="0.25" textLength="37.5" lengthAdjust="spacingAndGlyphs">6.081</text>
<text x="509" y="166.8" font-size="14" fill="#4a4a4a" stroke="#4a4a4a" stroke-width="0.25">C</text>
<text x="518" y="166.8" font-size="14" fill="#652018" stroke="#652018" stroke-width="0.25" textLength="35" lengthAdjust="spacingAndGlyphs">6.115</text>
<text x="561.5" y="166.8" font-size="14" fill="#652018" stroke="#652018" stroke-width="0.25" textLength="113.5" lengthAdjust="spacingAndGlyphs">−0.234 (−3.69%)</text>
<text x="21.5" y="186.8" font-size="14" fill="#4a4a4a" stroke="#4a4a4a" stroke-width="0.25" textLength="282.5" lengthAdjust="spacingAndGlyphs">VRVP (Number Of Rows, 24, Up/Down, 70)</text>
<text x="313.5" y="186.8" font-size="14" fill="#2196f3" stroke="#2196f3" stroke-width="0.25" textLength="54.5" lengthAdjust="spacingAndGlyphs">17.022M</text>
<text x="376.5" y="186.8" font-size="14" fill="#f9c54a" stroke="#f9c54a" stroke-width="0.25" textLength="55" lengthAdjust="spacingAndGlyphs">19.316M</text>
<text x="440" y="186.8" font-size="14" fill="#333" stroke="#333" stroke-width="0.25" textLength="60" lengthAdjust="spacingAndGlyphs">36.338M</text>
<text x="21.5" y="206.8" font-size="14" fill="#4a4a4a" stroke="#4a4a4a" stroke-width="0.25" textLength="130.5" lengthAdjust="spacingAndGlyphs">EMA (200, close, 0)</text>
<text x="161" y="206.8" font-size="14" fill="#2196f3" stroke="#2196f3" stroke-width="0.25" textLength="39" lengthAdjust="spacingAndGlyphs">6.893</text>
<text x="21.5" y="226.8" font-size="14" fill="#4a4a4a" stroke="#4a4a4a" stroke-width="0.25" textLength="122" lengthAdjust="spacingAndGlyphs">EMA (50, close, 0)</text>
<text x="152" y="226.8" font-size="14" fill="#f23645" stroke="#f23645" stroke-width="0.25" textLength="39" lengthAdjust="spacingAndGlyphs">6.845</text>
<text x="21.5" y="246.8" font-size="14" fill="#4a4a4a" stroke="#4a4a4a" stroke-width="0.25" textLength="64" lengthAdjust="spacingAndGlyphs">Vol · LINK</text>
<text x="94" y="246.8" font-size="14" fill="#f0524f" stroke="#f0524f" stroke-width="0.25" textLength="64" lengthAdjust="spacingAndGlyphs">474.429K</text>
<g fill="#d9d8de"><path d="M11.9 824.4h8.7v11h-5v-6h-3.7z"/><circle cx="24.4" cy="826.6" r="2.05"/><path d="M28.9 824.4H35L30.6 835.4H24.9z"/></g>
<text x="40" y="836" font-size="15" fill="#d9dbe1" stroke="#d9dbe1" stroke-width="0.25" textLength="87" lengthAdjust="spacingAndGlyphs">TradingView</text>
</svg>
</body></html>
